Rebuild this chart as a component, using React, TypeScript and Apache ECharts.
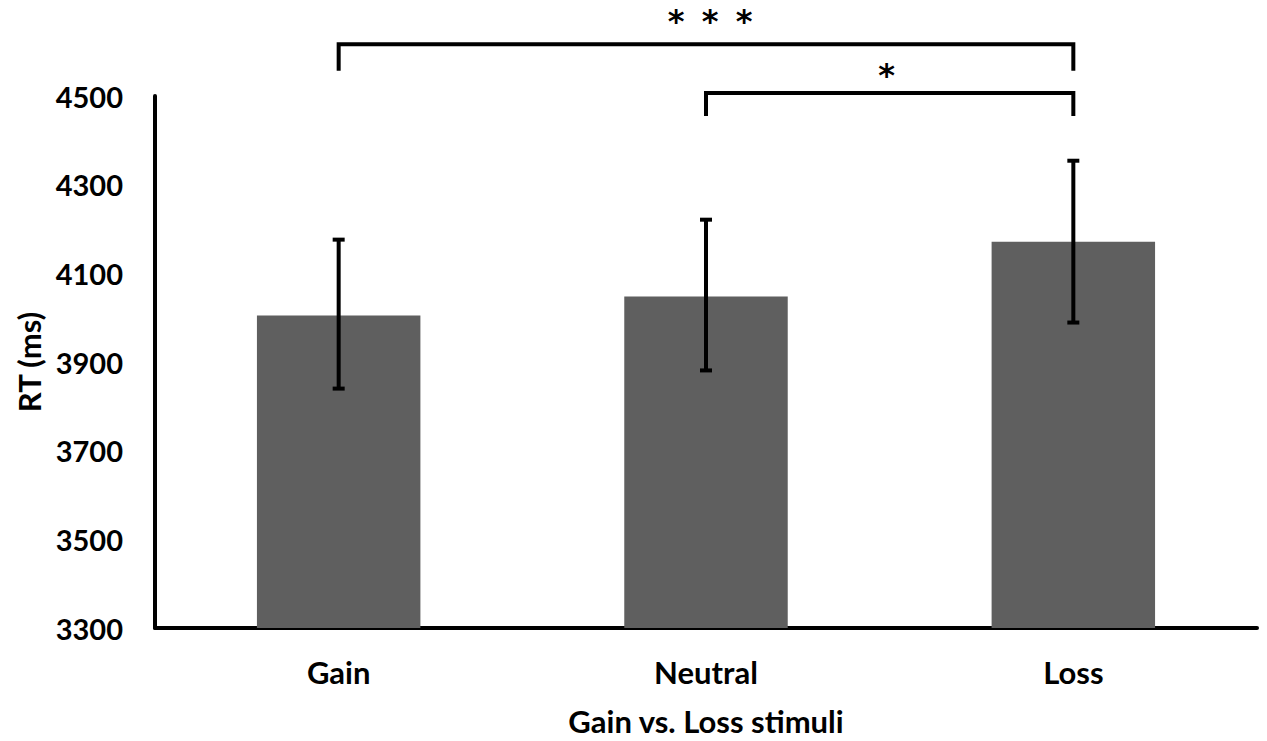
import React, { useEffect, useRef } from "react";
import * as echarts from "echarts";

const categories = ["Gain", "Neutral", "Loss"];
const meanRT = [4005, 4048, 4171];
const errLow = [3840, 3881, 3989];
const errHigh = [4176, 4221, 4354];
const yTicks = { min: 3300, max: 4500, interval: 200 };
// [fromIndex, toIndex, barTop, legBottom, starY, starCount]
const brackets: [number, number, number, number, number, number][] = [
  [0, 2, 4617, 4557, 4669, 3],
  [1, 2, 4507, 4455, 4548, 1],
];

const FONT = "Lato";

export default function App() {
  const ref = useRef<HTMLDivElement>(null);
  useEffect(() => {
    document.body.style.margin = "0";
    if (!ref.current) return;
    const chart = echarts.init(ref.current, undefined, { renderer: "svg" });
    chart.setOption({
      animation: false,
      backgroundColor: "#ffffff",
      grid: { left: 155, right: 10, top: 96, bottom: 112 },
      xAxis: {
        type: "category",
        data: categories,
        axisLine: { lineStyle: { color: "#000", width: 4 } },
        axisTick: { show: false },
        axisLabel: {
          color: "#000",
          fontFamily: FONT,
          fontWeight: "bold",
          fontSize: 31,
          margin: 28,
        },
        name: "Gain vs. Loss stimuli",
        nameLocation: "middle",
        nameGap: 77,
        nameTextStyle: { color: "#000", fontFamily: FONT, fontWeight: "bold", fontSize: 31 },
      },
      yAxis: {
        type: "value",
        min: yTicks.min,
        max: yTicks.max,
        interval: yTicks.interval,
        axisLine: { show: true, lineStyle: { color: "#000", width: 4 } },
        axisTick: { show: false },
        splitLine: { show: false },
        axisLabel: {
          color: "#000",
          fontFamily: FONT,
          fontWeight: "bold",
          fontSize: 29,
          margin: 32,
          formatter: (v: number) => String(v),
        },
        name: "RT (ms)",
        nameLocation: "middle",
        nameGap: 110,
        nameRotate: 90,
        nameTextStyle: { color: "#000", fontFamily: FONT, fontWeight: "bold", fontSize: 31 },
      },
      series: [
        {
          type: "bar",
          data: meanRT,
          barWidth: "44.5%",
          itemStyle: { color: "#5f5f5f" },
          z: 2,
        },
        {
          type: "custom",
          z: 5,
          data: categories.map((_, i) => [i, errLow[i], errHigh[i]]),
          renderItem: (params: any, api: any) => {
            const x = api.value(0);
            const lo = api.coord([x, api.value(1)]);
            const hi = api.coord([x, api.value(2)]);
            const cap = 6;
            const style = { stroke: "#000", lineWidth: 4 };
            return {
              type: "group",
              children: [
                { type: "line", shape: { x1: lo[0], y1: lo[1], x2: hi[0], y2: hi[1] }, style },
                { type: "line", shape: { x1: lo[0] - cap, y1: lo[1], x2: lo[0] + cap, y2: lo[1] }, style },
                { type: "line", shape: { x1: hi[0] - cap, y1: hi[1], x2: hi[0] + cap, y2: hi[1] }, style },
              ],
            };
          },
        },
        {
          type: "custom",
          z: 5,
          clip: false,
          data: brackets.map((b) => [b[0], b[1], b[2], b[3], b[4], b[5]]),
          renderItem: (params: any, api: any) => {
            const a = api.coord([api.value(0), api.value(2)]);
            const b = api.coord([api.value(1), api.value(2)]);
            const bottom = api.coord([api.value(0), api.value(3)])[1];
            const starY = api.coord([api.value(0), api.value(4)])[1];
            const count = api.value(5);
            const midX = count > 1 ? api.coord([1, api.value(2)])[0] + 4 : (a[0] + b[0]) / 2 - 3;
            const spacing = 34;
            const stars: any[] = [];
            for (let k = 0; k < count; k++) {
              stars.push({
                type: "text",
                x: midX + (k - (count - 1) / 2) * spacing,
                y: starY,
                style: {
                  text: "*",
                  fill: "#000",
                  fontSize: 32,
                  fontWeight: "bold",
                  fontFamily: "DejaVu Sans",
                  align: "center",
                  verticalAlign: "middle",
                },
              });
            }
            return {
              type: "group",
              children: [
                {
                  type: "polyline",
                  shape: {
                    points: [
                      [a[0], bottom],
                      [a[0], a[1]],
                      [b[0], b[1]],
                      [b[0], bottom],
                    ],
                  },
                  style: { stroke: "#000", lineWidth: 4, fill: null },
                },
                ...stars,
              ],
            };
          },
        },
      ],
    });
    return () => chart.dispose();
  }, []);
  return <div ref={ref} style={{ width: 1267, height: 741 }} />;
}
